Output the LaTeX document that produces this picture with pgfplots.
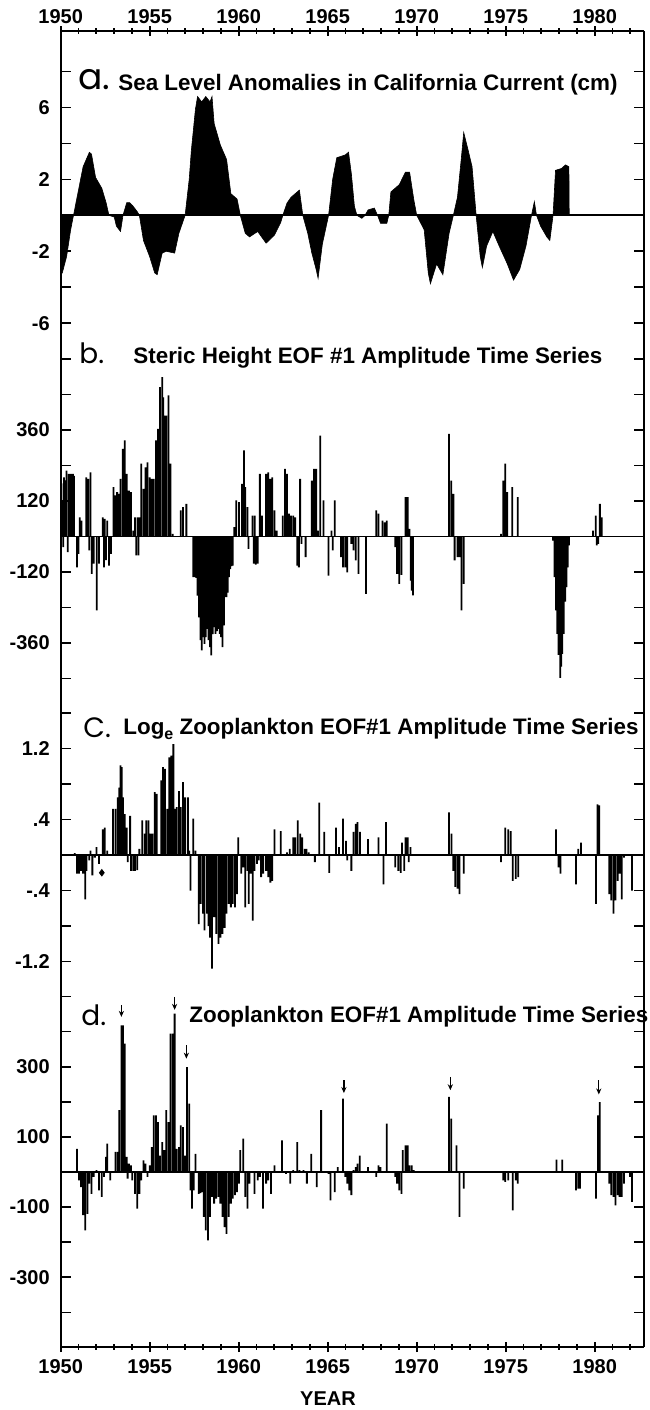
\documentclass[border=0pt]{standalone}
\usepackage{fontspec}
\setmainfont{Liberation Sans}
\newfontfamily\letterfont{Poppins}
\usepackage{pgfplots}
\usepackage{pgfplotstable}
\pgfplotsset{compat=1.18}
\usetikzlibrary{arrows.meta}
\newcommand{\tickfont}{\fontsize{10}{12}\selectfont\bfseries}
\newcommand{\titlefont}{\fontsize{11.2}{13}\selectfont\bfseries}

\pgfplotstableread{
x y
1950.00 230
1950.04 180
1950.09 120
1950.14 -36
1950.19 200
1950.25 190
1950.33 223
1950.40 -53
1950.45 212
1950.51 210
1950.57 212
1950.63 212
1950.69 212
1950.75 205
1950.91 -104
1951.00 -59
1951.07 65
1951.17 54
1951.43 200
1951.54 195
1951.61 -47
1951.68 217
1951.74 -126
1951.85 -92
1952.03 -250
1952.15 -92
1952.36 65
1952.43 -104
1952.48 60
1952.55 -80
1952.62 54
1952.71 -98
1952.83 -59
1952.97 167
1953.08 139
1953.17 150
1953.25 144
1953.36 195
1953.48 296
1953.60 325
1953.71 212
1953.83 155
1953.95 150
1954.07 20
1954.18 65
1954.25 -64
1954.31 65
1954.37 -64
1954.43 65
1954.53 246
1954.65 161
1954.77 234
1954.88 251
1955.00 200
1955.12 195
1955.23 195
1955.35 325
1955.47 364
1955.58 505
1955.70 539
1955.76 470
1955.82 409
1955.93 409
1956.05 477
1956.17 246
1956.29 9
1956.75 88
1956.87 99
1957.06 110
1957.45 -137
1957.53 -137
1957.61 -140
1957.69 -200
1957.77 -273
1957.85 -350
1957.92 -385
1958.00 -340
1958.08 -363
1958.15 -340
1958.23 -312
1958.31 -350
1958.39 -374
1958.46 -402
1958.54 -330
1958.62 -306
1958.70 -329
1958.78 -320
1958.86 -312
1958.93 -329
1959.01 -340
1959.09 -374
1959.17 -300
1959.24 -205
1959.31 -205
1959.38 -190
1959.45 -137
1959.52 -110
1959.60 -100
1959.67 -98
1959.75 32
1959.86 122
1960.02 116
1960.19 178
1960.30 291
1960.37 167
1960.49 99
1960.55 -42
1960.77 71
1960.84 -92
1960.90 71
1960.96 -95
1961.07 -92
1961.19 212
1961.31 71
1961.54 212
1961.66 217
1961.78 195
1961.89 200
1962.01 88
1962.13 20
1962.48 71
1962.60 229
1962.71 212
1962.83 77
1962.94 71
1963.06 71
1963.18 65
1963.29 -98
1963.38 -104
1963.45 195
1963.53 -25
1963.76 -70
1964.11 189
1964.23 229
1964.35 229
1964.46 20
1964.58 341
1964.77 122
1965.05 -132
1965.21 20
1965.28 -47
1965.40 122
1965.75 -70
1965.86 -104
1965.98 -104
1966.10 -121
1966.33 -25
1966.45 -47
1966.57 -81
1966.73 -126
1967.15 -194
1967.73 88
1967.85 77
1968.08 54
1968.20 48
1968.32 54
1968.79 -36
1968.90 -126
1969.02 -160
1969.14 -130
1969.37 133
1969.49 133
1969.60 26
1969.66 -149
1969.72 -183
1969.79 -199
1971.82 347
1971.94 189
1972.06 144
1972.13 -81
1972.29 -70
1972.41 -70
1972.52 -250
1972.64 -160
1974.74 9
1974.86 189
1974.98 246
1975.09 150
1975.37 167
1975.68 133
1977.66 -14
1977.74 -137
1977.82 -250
1977.90 -329
1977.97 -400
1978.06 -478
1978.12 -440
1978.18 -397
1978.26 -329
1978.34 -220
1978.41 -171
1978.49 -104
1978.56 -30
1979.90 20
1980.06 71
1980.12 -30
1980.20 -25
1980.29 110
1980.40 65
}\steric

\pgfplotstableread{
x y
1950.79 0.02
1950.91 -0.21
1951.03 -0.21
1951.14 -0.18
1951.26 -0.21
1951.38 -0.50
1951.45 -0.18
1951.61 -0.06
1951.68 0.05
1951.78 -0.23
1951.92 -0.03
1952.01 0.09
1952.15 -0.10
1952.36 0.29
1952.48 0.31
1952.62 0.05
1952.94 0.52
1953.08 0.52
1953.20 0.65
1953.29 0.76
1953.36 1.01
1953.43 0.99
1953.50 0.65
1953.60 0.46
1953.71 0.31
1953.77 -0.08
1953.90 0.44
1953.95 -0.18
1954.07 -0.18
1954.18 -0.18
1954.30 -0.17
1954.42 0.07
1954.58 0.39
1954.72 0.24
1954.81 0.39
1954.93 0.39
1955.05 0.24
1955.16 0.24
1955.28 0.71
1955.40 0.69
1955.65 0.84
1955.75 0.99
1955.86 0.97
1955.98 0.52
1956.10 1.10
1956.21 1.12
1956.33 1.25
1956.40 0.52
1956.52 0.54
1956.64 0.72
1956.75 0.54
1956.87 0.82
1956.99 0.65
1957.15 0.65
1957.22 0.05
1957.29 -0.40
1957.45 0.41
1957.57 0.05
1957.76 -0.78
1957.87 -0.55
1957.99 -0.66
1958.08 -0.85
1958.22 -0.66
1958.30 -0.80
1958.39 -0.93
1958.50 -1.28
1958.62 -0.70
1958.74 -0.89
1958.86 -1.00
1958.97 -0.93
1959.09 -0.89
1959.21 -0.82
1959.32 -0.66
1959.44 -0.55
1959.56 -0.59
1959.67 -0.55
1959.79 -0.59
1959.91 -0.44
1959.98 0.20
1960.14 -0.21
1960.26 -0.14
1960.37 -0.59
1960.49 -0.18
1960.56 -0.55
1960.68 -0.21
1960.79 -0.74
1960.89 -0.18
1961.03 -0.10
1961.12 -0.06
1961.26 -0.25
1961.38 -0.21
1961.54 -0.18
1961.66 -0.25
1961.78 -0.31
1961.89 -0.29
1962.01 0.29
1962.36 0.27
1962.71 0.03
1962.87 0.07
1963.06 0.20
1963.18 0.20
1963.32 0.39
1963.46 0.24
1963.57 0.20
1963.71 0.07
1963.81 0.07
1963.93 0.03
1964.28 -0.08
1964.53 0.59
1964.81 0.26
1965.09 -0.20
1965.47 0.31
1965.63 0.09
1965.86 0.41
1966.03 0.16
1966.10 -0.06
1966.33 -0.18
1966.45 0.26
1966.57 0.35
1966.68 0.37
1966.82 0.26
1967.27 0.18
1967.85 0.20
1968.13 -0.33
1968.27 0.37
1968.79 -0.14
1968.97 -0.18
1969.10 -0.20
1969.18 0.14
1969.30 -0.18
1969.37 0.20
1969.49 0.20
1969.55 -0.08
1969.65 0.09
1971.82 0.48
1971.96 0.24
1972.06 -0.18
1972.17 -0.36
1972.29 -0.38
1972.41 -0.44
1972.64 -0.21
1974.74 -0.08
1974.98 0.31
1975.14 0.29
1975.28 0.27
1975.40 -0.29
1975.56 -0.27
1975.70 -0.25
1977.83 0.29
1977.97 -0.14
1978.08 -0.21
1978.95 -0.33
1979.07 0.07
1979.23 0.14
1980.07 -0.55
1980.16 0.57
1980.26 0.56
1980.82 -0.44
1980.93 -0.51
1981.05 -0.66
1981.17 -0.51
1981.29 -0.29
1981.40 -0.21
1981.52 -0.50
1981.64 -0.03
1982.10 -0.40
}\logzoo

\pgfplotstableread{
x y
1950.91 66
1951.03 -24
1951.14 -43
1951.26 -123
1951.38 -166
1951.50 -119
1951.61 -33
1951.73 -62
1951.85 -14
1952.01 5
1952.15 -52
1952.31 -71
1952.43 -14
1952.55 43
1952.62 81
1952.78 -24
1953.08 57
1953.20 57
1953.29 176
1953.41 418
1953.50 418
1953.60 366
1953.71 43
1953.76 -19
1953.83 24
1953.95 19
1954.02 -24
1954.18 -62
1954.30 -104
1954.42 -62
1954.53 -24
1954.65 33
1954.77 24
1954.88 -14
1955.00 19
1955.12 71
1955.23 161
1955.35 161
1955.47 142
1955.58 47
1955.70 85
1955.82 62
1955.93 176
1956.05 142
1956.17 394
1956.29 394
1956.40 451
1956.52 66
1956.64 71
1956.75 133
1956.87 128
1956.99 47
1957.10 299
1957.22 195
1957.29 -52
1957.38 -104
1957.48 -52
1957.57 52
1957.76 -62
1957.85 -60
1957.92 -57
1958.04 -128
1958.15 -166
1958.27 -195
1958.39 -128
1958.50 -71
1958.62 -90
1958.74 -76
1958.86 -71
1958.97 -90
1959.09 -128
1959.21 -157
1959.32 -176
1959.44 -128
1959.56 -90
1959.67 -76
1959.79 -66
1959.91 -57
1960.02 -33
1960.09 62
1960.26 95
1960.37 -71
1960.49 -104
1960.61 -33
1960.89 -62
1961.07 -24
1961.19 -14
1961.36 -104
1961.54 -33
1961.66 -24
1961.82 -62
1962.01 19
1962.43 90
1962.66 -5
1962.90 -33
1963.06 5
1963.29 85
1963.41 5
1963.64 5
1963.83 -33
1964.07 52
1964.39 -43
1964.63 176
1965.05 -5
1965.16 -81
1965.40 -57
1965.56 14
1965.86 209
1965.98 -14
1966.10 -33
1966.21 -52
1966.33 -66
1966.45 5
1966.57 14
1966.68 24
1966.80 47
1967.27 14
1967.73 -14
1967.85 19
1967.97 14
1968.32 138
1968.79 -14
1968.90 -33
1969.02 -52
1969.14 -62
1969.21 62
1969.37 76
1969.49 76
1969.60 19
1969.72 19
1969.84 5
1971.82 214
1971.94 152
1972.24 76
1972.41 -128
1972.64 -47
1974.86 -24
1974.98 -28
1975.14 -24
1975.40 -109
1975.56 -24
1975.68 -33
1977.85 35
1978.18 35
1978.95 -52
1979.07 -47
1979.18 -47
1980.07 -76
1980.19 161
1980.28 199
1980.82 -33
1980.93 -66
1981.05 -71
1981.17 -95
1981.29 -66
1981.40 -71
1981.52 -71
1981.64 -33
1981.99 -14
1982.10 -85
}\zoo

\pgfplotstableread{
x y v
1953.41 475 -33
1956.40 499 -37
1957.06 361 -38
1965.91 261 -36
1971.89 271 -38
1980.23 261 -40
}\arrows

\pgfplotsset{
  panel/.style={
    scale only axis, width=291.65pt, anchor=north west,
    xmin=1950, xmax=1982.77,
    axis y line=box,
    tick align=inside,
    axis line style={-, line width=1.1pt},
    every tick/.style={black, line width=0.8pt},
    major tick length=5pt, minor tick length=2.6pt,
    tick label style={font=\tickfont},
    yticklabel style={xshift=-2pt},
    extra y tick labels={},
  },
  xpanel/.style={
    xtick={1950,1955,...,1980},
    minor xtick={1951,1952,...,1982},
    xticklabels={1950,1955,1960,1965,1970,1975,1980},
  },
  nox/.style={axis x line=none, xtick=\empty, minor xtick={}},
  bars/.style={ybar, bar width=0.1, fill=black, draw=none},
  zero/.style={black, line width=0.8pt, forget plot},
}

\begin{document}
\begin{tikzpicture}
\path[use as bounding box] (0,0) rectangle (324.5pt,-705pt);

% panel a
\begin{axis}[panel, xpanel, at={(30.35pt,-15.5pt)}, height=154.5pt,
  axis x line=top,
  x axis line style={-},
  every outer x axis line/.append style={-},
  every inner x axis line/.append style={-},
  xticklabel style={yshift=-2.5pt},
  ymin=-6.93, ymax=10.24,
  ytick={-6,-2,2,6}, yticklabels={-6,-2,2,6},
  extra y ticks={-4,0,4,8}]
\addplot[zero] coordinates {(1950,0) (1982.77,0)};
\addplot[fill=black, draw=black, line width=0.3pt] coordinates {
(1950.00,-3.3) (1950.09,-3.2) (1950.33,-2.3) (1950.56,-0.8) (1950.72,0)
(1951.26,2.7) (1951.61,3.5) (1951.73,3.4) (1951.96,2.1) (1952.31,1.5) (1952.55,0.7) (1952.71,0)
(1953.01,-0.1) (1953.13,-0.6) (1953.36,-0.9) (1953.50,0)
(1953.71,0.7) (1953.88,0.7) (1954.07,0.5) (1954.30,0.2) (1954.42,0)
(1954.65,-1.4) (1955.00,-2.3) (1955.28,-3.2) (1955.42,-3.3) (1955.70,-2.1) (1955.93,-2.0) (1956.40,-2.1) (1956.64,-1.0) (1956.99,0)
(1957.22,2.0) (1957.34,3.6) (1957.57,5.9) (1957.69,6.6) (1957.92,6.3) (1958.15,6.6) (1958.39,6.3) (1958.50,6.6) (1958.62,5.1) (1958.97,3.9) (1959.32,3.1) (1959.56,1.2) (1959.91,0.9) (1960.09,0)
(1960.37,-1.0) (1960.61,-1.2) (1961.07,-0.9) (1961.54,-1.55) (1962.01,-1.1) (1962.36,-0.4) (1962.48,0)
(1962.71,0.67) (1962.94,1.0) (1963.41,1.4) (1963.60,0)
(1963.88,-1.0) (1964.11,-2.1) (1964.35,-3.0) (1964.46,-3.5) (1964.70,-1.6) (1965.05,0)
(1965.28,2.0) (1965.51,3.2) (1965.98,3.35) (1966.17,3.5) (1966.33,2.3) (1966.50,0.5) (1966.64,0)
(1966.92,-0.17) (1967.10,0) (1967.27,0.3) (1967.62,0.4) (1967.80,0) (1967.97,-0.45) (1968.32,-0.45) (1968.43,0)
(1968.55,1.3) (1969.02,1.7) (1969.37,2.4) (1969.60,2.4) (1969.84,0.85) (1970.00,0)
(1970.42,-0.8) (1970.65,-3.2) (1970.77,-3.8) (1971.12,-2.7) (1971.47,-3.3) (1971.82,-1.0) (1972.06,0)
(1972.29,1.0) (1972.52,3.3) (1972.64,4.6) (1972.87,3.7) (1973.11,2.7) (1973.34,0)
(1973.57,-2.3) (1973.69,-2.9) (1973.93,-1.7) (1974.28,-0.9) (1974.63,-1.7) (1975.09,-2.7) (1975.44,-3.6) (1975.79,-3.0) (1976.14,-1.7) (1976.45,0)
(1976.61,0.76) (1976.73,0)
(1976.96,-0.6) (1977.31,-1.2) (1977.48,-1.4) (1977.66,0)
(1977.80,2.5) (1978.13,2.6) (1978.36,2.8) (1978.55,2.7) (1978.57,0)
} \closedcycle;
\end{axis}

% panel b
\begin{axis}[panel, nox, at={(30.35pt,-170pt)}, height=177.5pt,
  ymin=-535.8, ymax=664.2,
  ytick={-360,-120,120,360}, yticklabels={-360,-120,120,360},
  extra y ticks={-480,-240,0,240,480,600}]
\addplot[zero] coordinates {(1950,0) (1982.77,0)};
\addplot[bars] table[x=x,y=y] {\steric};
\end{axis}

% panel c
\begin{axis}[panel, nox, at={(30.35pt,-347.5pt)}, height=141.5pt,
  ymin=-1.386, ymax=1.803,
  ytick={-1.2,-0.4,0.4,1.2}, yticklabels={-1.2,-.4,.4,1.2},
  extra y ticks={-0.8,0,0.8,1.6}]
\addplot[zero] coordinates {(1950,0) (1982.77,0)};
\addplot[bars] table[x=x,y=y] {\logzoo};
\addplot[only marks, mark=diamond*, mark size=1.6pt, black] coordinates {(1952.31,-0.2)};
\end{axis}

% panel d
\begin{axis}[panel, xpanel, at={(30.35pt,-489pt)}, height=184.5pt,
  axis x line=bottom,
  x axis line style={-},
  every outer x axis line/.append style={-},
  every inner x axis line/.append style={-},
  ymin=-498.6, ymax=552.7,
  ytick={-300,-100,100,300}, yticklabels={-300,-100,100,300},
  extra y ticks={-400,-200,0,200,400,500}]
\addplot[zero] coordinates {(1950,0) (1982.77,0)};
\addplot[bars] table[x=x,y=y] {\zoo};
\addplot[black, line width=0.6pt, -{Stealth[length=3pt,width=2.6pt]},
  quiver={u=0, v=\thisrow{v}}] table[x=x,y=y] {\arrows};
\end{axis}

% panel titles
\node[anchor=base west, inner sep=0] at (39pt,-44.5pt) {\letterfont\fontsize{18}{18}\selectfont a.};
\node[anchor=base west, inner sep=0] at (59pt,-45pt) {\titlefont Sea Level Anomalies in California Current (cm)};
\node[anchor=base west, inner sep=0] at (39.5pt,-181.5pt) {\letterfont\fontsize{14}{14}\selectfont b.};
\node[anchor=base west, inner sep=0] at (66.5pt,-181.5pt) {\titlefont Steric Height EOF \#1 Amplitude Time Series};
\node[anchor=base west, inner sep=0] at (41.5pt,-368.5pt) {\letterfont\fontsize{14}{14}\selectfont C.};
\node[anchor=base west, inner sep=0] at (61.5pt,-367pt) {\titlefont Log\raisebox{-2.5pt}{\fontsize{8}{8}\selectfont e} Zooplankton EOF\#1 Amplitude Time Series};
\node[anchor=base west, inner sep=0] at (40.5pt,-512.5pt) {\letterfont\fontsize{14}{14}\selectfont d.};
\node[anchor=base west, inner sep=0] at (94.5pt,-511pt) {\titlefont Zooplankton EOF\#1 Amplitude Time Series};
\node[anchor=center, inner sep=0] at (164pt,-699.5pt) {\fontsize{10}{12}\selectfont\bfseries YEAR};
\end{tikzpicture}
\end{document}
